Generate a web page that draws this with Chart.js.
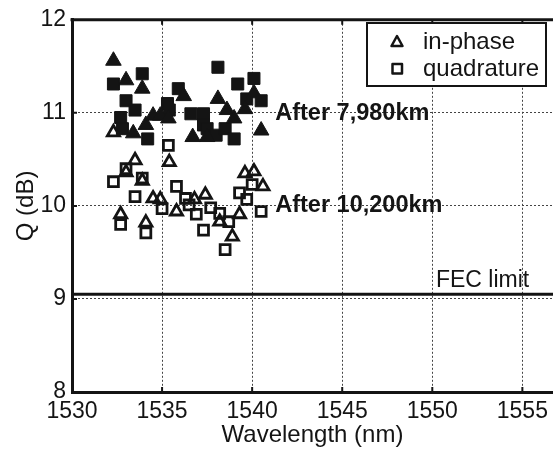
<!DOCTYPE html>
<html>
<head>
<meta charset="utf-8">
<script src="https://cdn.jsdelivr.net/npm/chart.js@4/dist/chart.umd.min.js"></script>
<style>
  html, body { margin: 0; padding: 0; background: #fff; }
</style>
</head>
<body>
<canvas id="chart" width="553" height="451"></canvas>
<script>
// axis ticks
const xTicks = [1530, 1535, 1540, 1545, 1550, 1555];
const yTicks = [8, 9, 10, 11, 12];
const xMax = 1556.7;
const fecLimit = 9.05;

// After 7,980km - filled markers
const inPhase7980Wl = [1532.3, 1533.0, 1533.9, 1533.4, 1534.1, 1534.5, 1534.9, 1535.35, 1536.2, 1536.7, 1537.5, 1538.1, 1538.6, 1539.0, 1539.6, 1540.1, 1540.5];
const inPhase7980Q  = [11.56, 11.35, 11.26, 10.78, 10.87, 10.97, 10.97, 10.94, 11.18, 10.74, 10.74, 11.15, 11.03, 10.94, 11.04, 11.21, 10.81];
const quad7980Wl = [1532.3, 1532.7, 1532.8, 1533.0, 1533.5, 1533.9, 1534.2, 1535.3, 1535.4, 1535.9, 1536.6, 1537.3, 1537.3, 1537.5, 1538.0, 1538.1, 1538.5, 1539.0, 1539.2, 1539.7, 1540.1, 1540.5];
const quad7980Q  = [11.31, 10.95, 10.83, 11.13, 11.03, 11.42, 10.72, 11.10, 11.03, 11.26, 10.99, 10.99, 10.87, 10.83, 10.76, 11.49, 10.83, 10.72, 11.31, 11.15, 11.37, 11.13];

// After 10,200km - open markers
const inPhase10200Wl = [1532.3, 1532.7, 1533.0, 1533.5, 1533.9, 1534.1, 1534.5, 1534.9, 1535.4, 1535.8, 1536.8, 1537.4, 1538.2, 1538.9, 1539.3, 1539.6, 1540.1, 1540.6];
const inPhase10200Q  = [10.79, 9.91, 10.36, 10.49, 10.27, 9.82, 10.08, 10.07, 10.47, 9.94, 10.07, 10.12, 9.83, 9.67, 9.91, 10.35, 10.37, 10.21];
const quad10200Wl = [1532.3, 1532.7, 1533.0, 1533.5, 1533.9, 1534.1, 1535.0, 1535.35, 1535.8, 1536.3, 1536.5, 1536.9, 1537.3, 1537.7, 1538.2, 1538.5, 1538.7, 1539.3, 1539.7, 1540.0, 1540.5];
const quad10200Q  = [10.26, 9.80, 10.40, 10.10, 10.30, 9.71, 9.97, 10.65, 10.21, 10.08, 10.01, 9.91, 9.74, 9.98, 9.92, 9.53, 9.83, 10.14, 10.07, 10.23, 9.94];

const toPoints = (xs, ys) => xs.map((v, i) => ({ x: v, y: ys[i] }));

const ink = '#141414';
const font = 'Liberation Sans, Arial, sans-serif';

// text labels, inward tick marks, top frame and the legend box
const extrasPlugin = {
  id: 'extras',
  afterDraw(chart) {
    const { ctx, chartArea: a, scales: { x, y } } = chart;
    ctx.save();
    ctx.strokeStyle = ink;
    ctx.fillStyle = ink;

    // top frame line
    ctx.lineWidth = 3;
    ctx.beginPath();
    ctx.moveTo(a.left - 1.5, a.top);
    ctx.lineTo(a.right, a.top);
    ctx.stroke();

    // inward tick marks
    ctx.lineWidth = 2;
    ctx.beginPath();
    xTicks.slice(1).forEach(v => {
      const px = x.getPixelForValue(v);
      ctx.moveTo(px, a.top);
      ctx.lineTo(px, a.top + 5);
      ctx.moveTo(px, a.bottom);
      ctx.lineTo(px, a.bottom - 5);
    });
    yTicks.slice(1, -1).forEach(v => {
      const py = y.getPixelForValue(v);
      ctx.moveTo(a.left, py);
      ctx.lineTo(a.left + 5, py);
    });
    ctx.stroke();

    // annotations
    ctx.textBaseline = 'middle';
    ctx.textAlign = 'left';
    ctx.font = 'bold 23.5px ' + font;
    ctx.fillText('After 7,980km', x.getPixelForValue(1541.28), y.getPixelForValue(10.99));
    ctx.fillText('After 10,200km', x.getPixelForValue(1541.28), y.getPixelForValue(10.0));
    ctx.font = '23px ' + font;
    ctx.fillText('FEC limit', x.getPixelForValue(1550.2), y.getPixelForValue(9.2));

    // legend
    const lx = 367, ly = 23, lw = 179, lh = 63;
    ctx.fillStyle = '#fff';
    ctx.fillRect(lx, ly, lw, lh);
    ctx.lineWidth = 2;
    ctx.strokeRect(lx, ly, lw, lh);
    ctx.fillStyle = ink;
    ctx.lineWidth = 2.5;
    ctx.lineJoin = 'round';
    ctx.beginPath();
    ctx.moveTo(397, 36);
    ctx.lineTo(402.5, 46);
    ctx.lineTo(391.5, 46);
    ctx.closePath();
    ctx.stroke();
    ctx.strokeRect(392.5, 64, 9.5, 9.5);
    ctx.font = '24px ' + font;
    ctx.fillText(chart.data.datasets[2].label, 423, 42);
    ctx.fillText(chart.data.datasets[3].label, 423, 69);
    ctx.restore();
  }
};

new Chart(document.getElementById('chart'), {
  type: 'scatter',
  data: {
    datasets: [
      {
        label: 'FEC limit',
        data: [{ x: xTicks[0], y: fecLimit }, { x: xMax, y: fecLimit }],
        showLine: true,
        borderColor: ink,
        borderWidth: 3,
        pointRadius: 0
      },
      {
        label: 'in-phase 7,980km',
        data: toPoints(inPhase7980Wl, inPhase7980Q),
        pointStyle: 'triangle',
        pointRadius: 9,
        backgroundColor: ink,
        borderColor: ink,
        borderWidth: 1
      },
      {
        label: 'in-phase',
        data: toPoints(inPhase10200Wl, inPhase10200Q),
        pointStyle: 'triangle',
        pointRadius: 7,
        backgroundColor: 'rgba(0,0,0,0)',
        borderColor: ink,
        borderWidth: 2.8
      },
      {
        label: 'quadrature',
        data: toPoints(quad10200Wl, quad10200Q),
        pointStyle: 'rect',
        pointRadius: 7,
        backgroundColor: 'rgba(0,0,0,0)',
        borderColor: ink,
        borderWidth: 2.8
      },
      {
        label: 'quadrature 7,980km',
        data: toPoints(quad7980Wl, quad7980Q),
        pointStyle: 'rect',
        pointRadius: 8.5,
        backgroundColor: ink,
        borderColor: ink,
        borderWidth: 1
      }
    ]
  },
  options: {
    responsive: false,
    animation: false,
    devicePixelRatio: 1,
    layout: { autoPadding: false, padding: { top: 17, right: 0, left: 0, bottom: 0 } },
    plugins: {
      legend: { display: false },
      tooltip: { enabled: false }
    },
    scales: {
      x: {
        type: 'linear',
        min: xTicks[0],
        max: xMax,
        afterBuildTicks: s => { s.ticks = xTicks.map(v => ({ value: v })); },
        afterFit: s => { s.height = 59; s.paddingLeft = 0; s.paddingRight = 0; },
        ticks: {
          color: ink,
          padding: 6,
          font: { family: font, size: 23 },
          callback: v => String(v)
        },
        grid: { color: '#444', lineWidth: 1, drawTicks: false },
        border: { color: ink, width: 3, dash: [2, 2] },
        title: {
          display: true,
          text: 'Wavelength (nm)',
          color: ink,
          padding: { top: 0, bottom: 1 },
          font: { family: font, size: 24 }
        }
      },
      y: {
        min: yTicks[0],
        max: yTicks[yTicks.length - 1],
        afterBuildTicks: s => { s.ticks = yTicks.map(v => ({ value: v })); },
        afterFit: s => { s.width = 72; },
        ticks: {
          color: ink,
          padding: 6,
          font: { family: font, size: 23 },
          callback: v => String(v)
        },
        grid: { color: '#444', lineWidth: 1, drawTicks: false },
        border: { color: ink, width: 3, dash: [2, 2] },
        title: {
          display: true,
          text: 'Q (dB)',
          color: ink,
          padding: { top: 12, bottom: 0 },
          font: { family: font, size: 24 }
        }
      }
    }
  },
  plugins: [extrasPlugin]
});
</script>
</body>
</html>
